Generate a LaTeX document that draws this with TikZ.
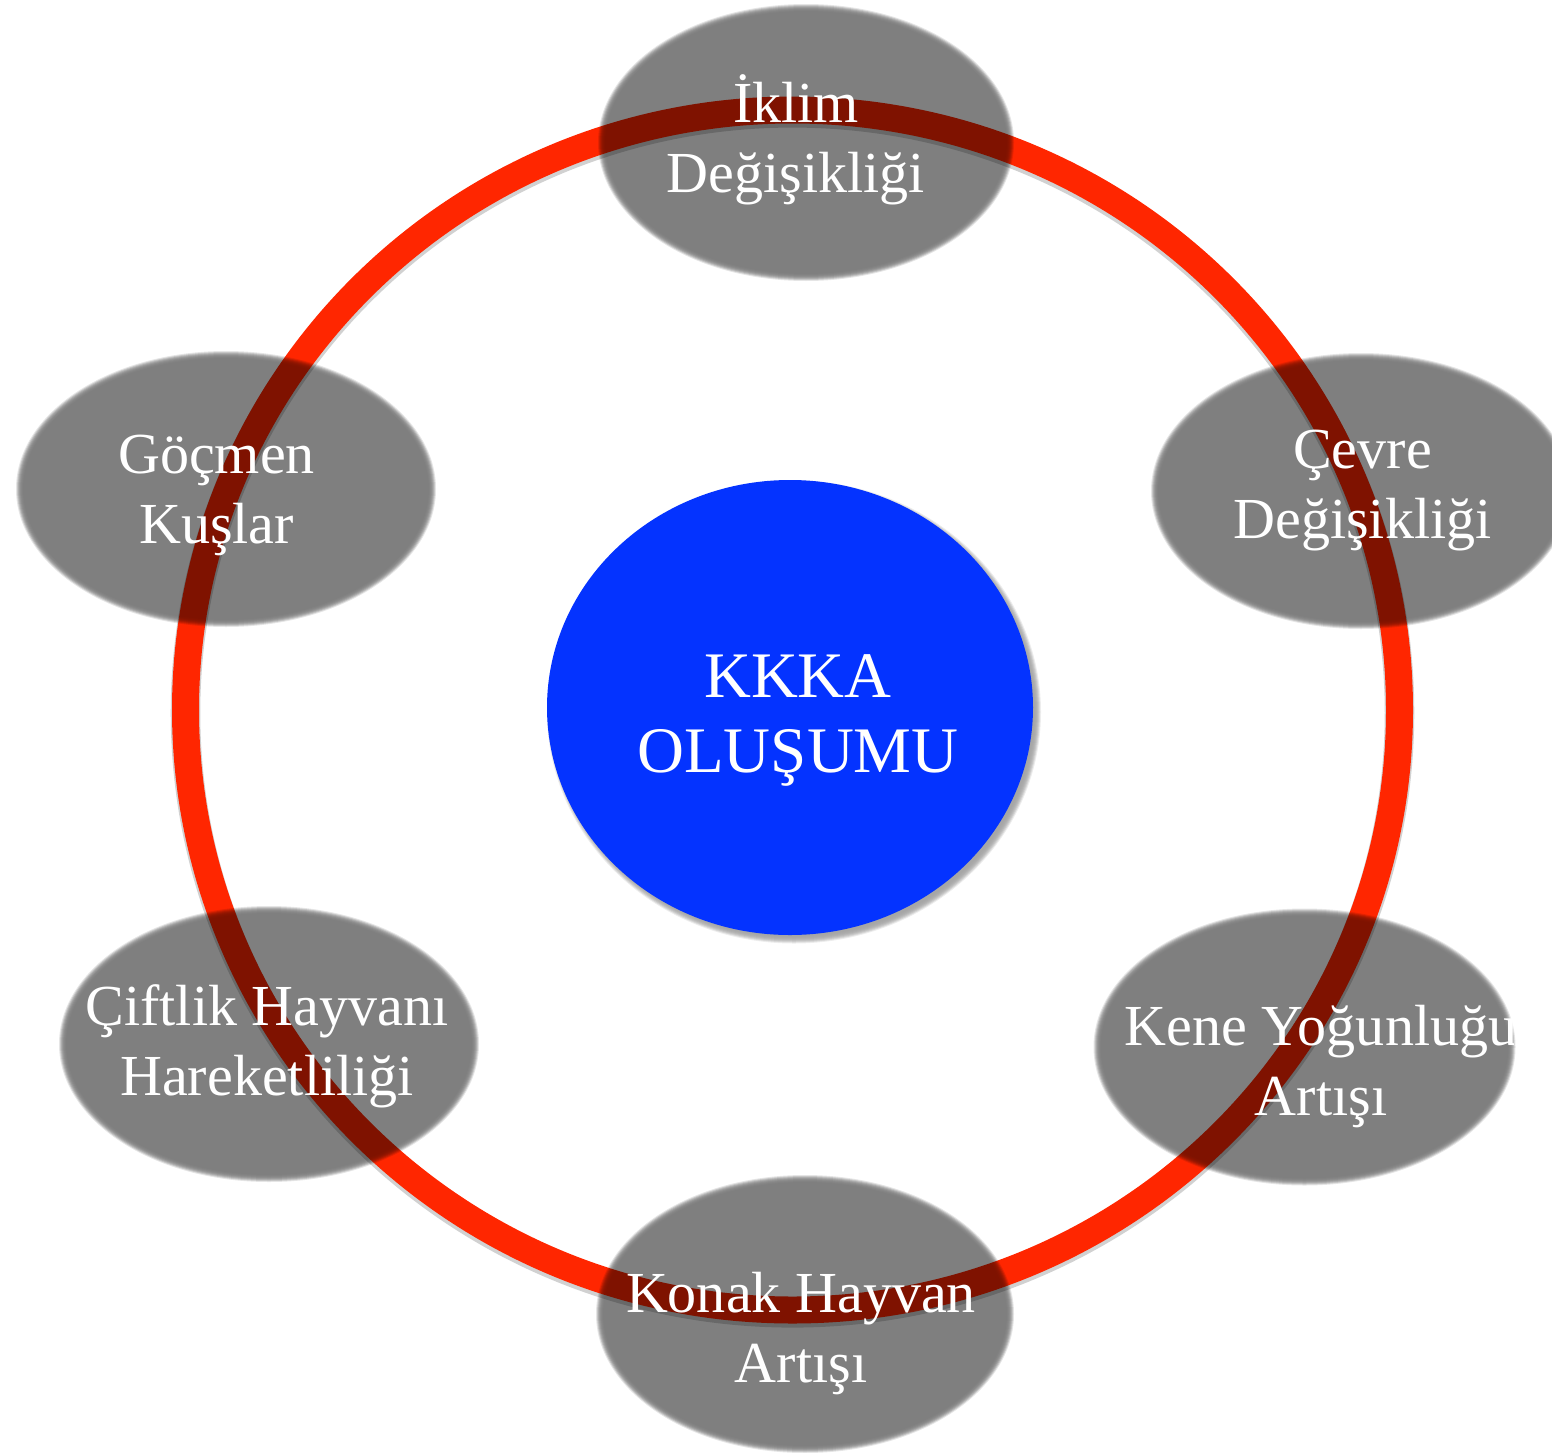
\documentclass[tikz,border=0pt]{standalone}
\usepackage{fontspec}
\setmainfont{Liberation Serif}
\begin{document}
% one unit = one pixel of a 1552 x 1453 canvas, y grows downwards
\newcommand\softblob[5]{% centre x, centre y, x radius, y radius, group opacity
  \begin{scope}[transparency group, opacity=#5]
    \foreach \d/\o in {4/0.2,3/0.3,2/0.35,1/0.4,0/0.45,-1/0.5,-2/0.6}{
      \fill[black, opacity=\o] (#1,#2) ellipse [x radius={#3+\d}, y radius={#4+\d}];
    }
    \fill[black, opacity=1] (#1,#2) ellipse [x radius={#3-3}, y radius={#4-3}];
  \end{scope}}
\begin{tikzpicture}[x=0.025cm, y=-0.025cm,
  % two-line labels are placed by the baseline of their last line
  lbl/.style={text=white, align=center, inner sep=0pt, anchor=base,
    font=\fontsize{41.3pt}{49.2pt}\selectfont},
  core/.style={text=white, align=center, inner sep=0pt, anchor=base,
    font=\fontsize{46.2pt}{53.3pt}\selectfont}]
  \definecolor{ringred}{RGB}{255,38,0}
  \definecolor{coreblue}{RGB}{4,51,255}
  \useasboundingbox (0,0) rectangle (1552,1453);
  \fill[white] (0,0) rectangle (1552,1453);

  % outer ring with a faint shadow
  \coordinate (c) at (792.5,710);
  \draw[black, opacity=0.18, line width=21pt] ([yshift=-2pt]c) ellipse [x radius=607, y radius=600];
  \draw[ringred, line width=19.2pt] (c) ellipse [x radius=607, y radius=600];

  % translucent grey ellipses around the ring
  \softblob{806}{142.5}{204}{134.5}{0.5}
  \softblob{226}{489}{206}{134}{0.5}
  \softblob{1361}{491}{206}{134}{0.5}
  \softblob{269}{1044}{206}{134}{0.5}
  \softblob{1304.5}{1047}{207}{134.5}{0.5}
  \softblob{805}{1314}{205}{135}{0.5}

  % central disc with drop shadow
  \softblob{794}{712}{243}{227.5}{0.35}
  \fill[coreblue] (790,707.5) ellipse [x radius=243, y radius=227.5];

  % labels
  \node[core] (kkka) at (798,772) {KKKA\\OLUŞUMU};
  \node[lbl] (iklim) at (796,192) {İklim\\Değişikliği};
  \node[lbl] (gocmen) at (216.5,543) {Göçmen\\Kuşlar};
  \node[lbl] (cevre) at (1362.5,538) {Çevre\\Değişikliği};
  \node[lbl] (ciftlik) at (267,1095) {Çiftlik Hayvanı\\Hareketliliği};
  \begin{scope}
    \clip (0,0) rectangle (1513,1453);
    \node[lbl] (kene) at (1321,1115) {Kene Yoğunluğu\\Artışı};
  \end{scope}
  \node[lbl] (konak) at (801,1382) {Konak Hayvan\\Artışı};
\end{tikzpicture}
\end{document}
